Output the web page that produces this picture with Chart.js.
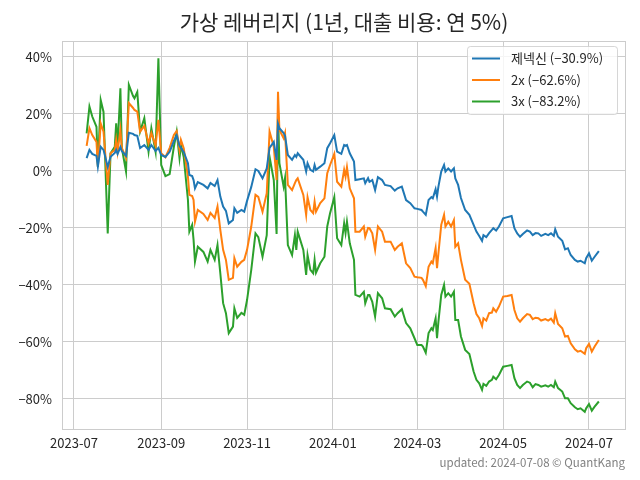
<!DOCTYPE html>
<html>
<head>
<meta charset="utf-8">
<script src="https://cdn.jsdelivr.net/npm/chart.js@4.4.1/dist/chart.umd.min.js"></script>
<style>
  html, body { margin: 0; padding: 0; background: #fff; }
  #wrap { width: 640px; height: 480px; }
</style>
</head>
<body>
<div id="wrap"><canvas id="myChart" width="640" height="480"></canvas></div>
<script>
// 날짜 (대략적인 거래일)
const dates = [
  '2023-07-10','2023-07-12','2023-07-14','2023-07-17','2023-07-18','2023-07-20','2023-07-22','2023-07-25','2023-07-27','2023-07-30',
  '2023-07-31','2023-08-01','2023-08-03','2023-08-04','2023-08-07','2023-08-09','2023-08-12','2023-08-13','2023-08-15','2023-08-17',
  '2023-08-20','2023-08-23','2023-08-25','2023-08-28','2023-08-30','2023-09-01','2023-09-04','2023-09-07','2023-09-10','2023-09-12',
  '2023-09-14','2023-09-15','2023-09-17','2023-09-20','2023-09-21','2023-09-23','2023-09-24','2023-09-25','2023-09-27','2023-10-01',
  '2023-10-04','2023-10-06','2023-10-09','2023-10-11','2023-10-13','2023-10-15','2023-10-17','2023-10-19','2023-10-22','2023-10-23',
  '2023-10-25','2023-10-28','2023-10-30','2023-11-01','2023-11-04','2023-11-07','2023-11-09','2023-11-12','2023-11-15','2023-11-17',
  '2023-11-20','2023-11-22','2023-11-23','2023-11-24','2023-11-27','2023-11-28','2023-11-30','2023-12-03','2023-12-05','2023-12-06',
  '2023-12-07','2023-12-11','2023-12-13','2023-12-14','2023-12-16','2023-12-18','2023-12-19','2023-12-20','2023-12-23','2023-12-26',
  '2023-12-28','2023-12-30','2024-01-02','2024-01-04','2024-01-07','2024-01-09','2024-01-10','2024-01-11','2024-01-13','2024-01-16',
  '2024-01-17','2024-01-20','2024-01-23','2024-01-24','2024-01-26','2024-01-27','2024-01-29','2024-01-31','2024-02-02','2024-02-05',
  '2024-02-07','2024-02-11','2024-02-14','2024-02-16','2024-02-19','2024-02-22','2024-02-25','2024-02-28','2024-03-01','2024-03-04',
  '2024-03-05','2024-03-07','2024-03-09','2024-03-11','2024-03-12','2024-03-14','2024-03-15','2024-03-16','2024-03-18','2024-03-20',
  '2024-03-21','2024-03-23','2024-03-25','2024-03-27','2024-03-28','2024-03-30','2024-04-01','2024-04-04','2024-04-07','2024-04-10',
  '2024-04-12','2024-04-14','2024-04-16','2024-04-17','2024-04-19','2024-04-21','2024-04-23','2024-04-24','2024-04-26','2024-04-28',
  '2024-05-01','2024-05-04','2024-05-07','2024-05-09','2024-05-11','2024-05-13','2024-05-15','2024-05-18','2024-05-20','2024-05-22',
  '2024-05-24','2024-05-26','2024-05-28','2024-05-31','2024-06-02','2024-06-04','2024-06-06','2024-06-07','2024-06-09','2024-06-12',
  '2024-06-14','2024-06-16','2024-06-18','2024-06-21','2024-06-23','2024-06-25','2024-06-28','2024-06-29','2024-07-01','2024-07-03',
  '2024-07-05','2024-07-08'
];

// 제넥신 누적 수익률 (%)
const base1x = [
  4.5, 7.4, 6.0, 5.3, 1.5, 8.5, 7.4, 1.4, 5.0, 6.3,
  7.4, 6.0, 8.4, 7.0, 5.3, 13.4, 13.0, 12.6, 12.3, 8.0,
  9.1, 7.4, 9.1, 7.0, 8.1, 5.6, 4.9, 6.7, 10.5, 12.5,
  8.8, 8.1, 6.7, 2.7, -1.4, -1.8, -3.2, -6.1, -3.9, -4.9,
  -6.1, -4.2, -5.3, -3.2, -9.0, -12.5, -14.0, -18.4, -17.2, -13.1,
  -14.7, -13.7, -14.3, -10.5, -5.6, 0.6, 0.0, -2.6, 0.9, 8.1,
  10.2, 3.9, 16.5, 15.0, 13.3, 12.3, 5.6, 3.9, 5.6, 4.9,
  6.2, 3.9, -0.2, 2.7, 0.4, -0.2, 2.1, 0.4, 1.5, 2.7,
  8.0, 9.7, 12.6, 6.8, 6.0, 9.1, 8.8, 9.1, 6.2, 3.3,
  -3.2, -2.9, -2.6, -4.3, -2.5, -3.8, -3.2, -6.7, -2.2, -3.2,
  -4.9, -5.3, -6.9, -6.1, -5.5, -10.2, -11.3, -13.1, -13.3, -13.7,
  -14.3, -15.4, -10.2, -9.2, -9.6, -6.4, -9.0, -5.5, -0.2, 2.1,
  -0.2, 0.9, -0.2, 0.9, -2.6, -4.9, -9.5, -13.7, -15.4, -18.9,
  -21.3, -22.8, -24.5, -22.5, -23.2, -21.8, -20.7, -20.1, -20.9, -19.5,
  -16.6, -16.2, -15.8, -20.1, -21.9, -23.1, -22.1, -20.9, -21.3, -22.5,
  -21.8, -21.9, -22.8, -22.1, -22.5, -21.9, -22.8, -20.5, -23.1, -24.5,
  -27.5, -27.1, -29.5, -31.2, -31.8, -31.5, -32.4, -30.6, -28.9, -31.5,
  -30.1, -28.1
];

// 2배 레버리지 (%)
const lev2x = [
  8.8, 15.0, 12.6, 10.2, 1.5, 16.7, 13.8, -4.9, 6.2, 7.4,
  10.9, 6.7, 14.4, 8.1, 4.6, 23.8, 22.1, 21.4, 20.8, 13.8,
  15.8, 9.7, 13.3, 8.8, 17.9, 6.2, 4.8, 8.1, 12.6, 14.0,
  7.4, 10.9, 8.0, -2.0, -8.4, -8.8, -10.2, -17.8, -13.7, -15.1,
  -17.2, -14.7, -16.5, -12.5, -20.7, -27.7, -31.2, -38.2, -37.5, -30.6,
  -33.6, -31.9, -31.2, -27.7, -19.5, -8.4, -9.1, -14.3, -7.8, 13.8,
  8.5, -3.2, 27.8, 14.4, 11.5, 13.3, -4.9, -6.7, -4.3, -3.2,
  -2.6, -8.4, -15.4, -9.2, -13.7, -14.8, -10.8, -14.3, -11.3, -9.6,
  -0.8, 2.1, 6.0, -3.8, -5.5, 0.4, -2.0, 1.3, -6.1, -9.6,
  -21.3, -21.3, -19.5, -23.1, -20.0, -20.1, -21.9, -27.7, -19.5, -21.3,
  -24.8, -24.8, -27.7, -26.6, -25.4, -32.4, -34.1, -37.1, -37.3, -37.5,
  -38.2, -40.4, -33.6, -31.8, -32.4, -27.1, -34.1, -28.9, -18.9, -15.4,
  -19.5, -17.8, -19.5, -17.2, -26.6, -25.4, -31.2, -38.2, -39.6, -46.4,
  -50.2, -51.7, -54.4, -51.7, -52.5, -49.9, -49.7, -48.2, -49.4, -47.6,
  -44.1, -43.9, -43.5, -48.8, -51.7, -52.9, -51.7, -50.2, -50.5, -52.0,
  -51.5, -51.7, -52.5, -52.0, -52.5, -51.8, -53.2, -49.9, -53.7, -55.2,
  -58.1, -57.9, -60.5, -62.6, -63.4, -63.1, -64.2, -62.2, -60.7, -63.4,
  -61.6, -59.3
];

// 3배 레버리지 (%)
const lev3x = [
  13.2, 22.6, 19.1, 15.5, 1.5, 24.9, 20.7, -21.9, 6.2, 8.5,
  16.7, 8.1, 29.0, 8.1, -0.2, 30.2, 26.3, 25.5, 27.7, 13.8,
  18.5, 6.8, 15.0, 6.8, 39.5, 2.1, -1.8, -1.1, 8.5, 13.8,
  4.5, 9.1, 4.9, -10.2, -21.3, -18.9, -24.2, -31.8, -26.6, -28.4,
  -31.8, -27.7, -31.2, -26.0, -35.9, -46.4, -49.9, -56.9, -54.6, -48.2,
  -51.6, -49.8, -50.5, -45.3, -34.7, -21.9, -23.2, -30.1, -22.5, 5.0,
  -3.2, -22.1, 20.8, 2.7, -5.5, -2.5, -26.0, -29.5, -22.5, -27.7,
  -21.3, -27.7, -36.5, -29.5, -34.7, -35.9, -31.2, -35.7, -32.4, -30.1,
  -19.5, -14.8, -9.2, -23.6, -26.0, -18.4, -21.8, -17.8, -25.4, -31.2,
  -43.5, -44.1, -42.4, -46.4, -43.5, -43.5, -45.9, -51.1, -42.9, -44.7,
  -48.2, -48.5, -51.1, -49.9, -48.5, -53.4, -55.2, -58.7, -61.1, -61.1,
  -61.6, -63.8, -56.9, -55.2, -55.8, -51.7, -58.7, -52.9, -43.5, -40.0,
  -44.1, -42.9, -44.1, -42.4, -52.3, -52.3, -58.1, -62.8, -64.2, -70.4,
  -73.3, -74.5, -76.8, -74.7, -75.4, -73.9, -73.3, -72.2, -73.1, -71.6,
  -68.7, -68.4, -68.1, -72.7, -75.1, -76.2, -75.1, -73.9, -74.3, -75.9,
  -74.8, -75.1, -75.7, -75.2, -75.7, -75.1, -75.9, -73.9, -76.2, -77.4,
  -79.8, -79.8, -81.5, -82.9, -83.6, -83.3, -84.5, -83.3, -81.8, -84.1,
  -82.7, -80.9
];

const seriesLabels = ['제넥신 (\u221230.9%)', '2x (\u221262.6%)', '3x (\u221283.2%)'];
const yTicks = [-80, -60, -40, -20, 0, 20, 40];
const xTicks = ['2023-07-01', '2023-09-01', '2023-11-01', '2024-01-01', '2024-03-01', '2024-05-01', '2024-07-01'];

const FONT = "'Noto Sans CJK KR', 'Noto Sans', sans-serif";
const colors = ['#1f77b4', '#ff7f0e', '#2ca02c'];

function toPoints(vals) {
  return vals.map((v, i) => ({ x: Date.parse(dates[i]), y: v }));
}

function fmtPct(v) {
  return (v < 0 ? '\u2212' + Math.abs(v) : v) + '%';
}

// 제목, 테두리, 범례, 하단 문구
const decor = {
  id: 'decor',
  beforeDatasetsDraw(chart) {
    const { ctx, chartArea: a } = chart;
    ctx.save();
    ctx.strokeStyle = '#cccccc';
    ctx.lineWidth = 1;
    ctx.strokeRect(a.left + 0.5, a.top + 0.5, a.right - a.left - 1, a.bottom - a.top - 1);
    ctx.restore();
  },
  afterDatasetsDraw(chart) {
    const { ctx, chartArea: a } = chart;
    ctx.save();
    // legend
    const bx = 467, by = 46, bw = 150, bh = 68;
    ctx.beginPath();
    ctx.roundRect(bx + 0.5, by + 0.5, bw, bh, 3);
    ctx.fillStyle = 'rgba(255,255,255,0.8)';
    ctx.fill();
    ctx.strokeStyle = 'rgba(204,204,204,0.8)';
    ctx.lineWidth = 1;
    ctx.stroke();
    ctx.font = '13px ' + FONT;
    ctx.textBaseline = 'middle';
    chart.data.datasets.forEach((ds, i) => {
      const yy = 58.5 + i * 21.5;
      ctx.strokeStyle = ds.borderColor;
      ctx.lineWidth = 2;
      ctx.beginPath();
      ctx.moveTo(472, yy);
      ctx.lineTo(500, yy);
      ctx.stroke();
      ctx.fillStyle = '#262626';
      ctx.fillText(ds.label, 511, yy);
    });
    // title
    ctx.fillStyle = '#262626';
    ctx.font = '21px ' + FONT;
    ctx.textAlign = 'center';
    ctx.textBaseline = 'middle';
    ctx.fillText('가상 레버리지 (1년, 대출 비용: 연 5%)', (a.left + a.right) / 2, 22);
    // footer
    ctx.fillStyle = '#808080';
    ctx.font = '11.5px ' + FONT;
    ctx.textAlign = 'right';
    ctx.fillText('updated: 2024-07-08 \u00a9 QuantKang', 625, 463);
    ctx.restore();
  }
};

const day = 86400000;
const jul1 = Date.parse('2023-07-01');

const ctx = document.getElementById('myChart').getContext('2d');
const myChart = new Chart(ctx, {
  type: 'line',
  data: {
    datasets: [base1x, lev2x, lev3x].map((vals, i) => ({
      label: seriesLabels[i],
      data: toPoints(vals),
      borderColor: colors[i],
      backgroundColor: colors[i],
      borderWidth: 2,
      pointRadius: 0,
      tension: 0
    }))
  },
  options: {
    responsive: false,
    animation: false,
    layout: { padding: { left: 0, right: 14, top: 41, bottom: 0 } },
    plugins: {
      legend: { display: false },
      title: { display: false },
      tooltip: { enabled: false }
    },
    scales: {
      x: {
        type: 'linear',
        min: jul1 - 8.5 * day,
        max: jul1 + 392.3 * day,
        grid: { color: '#cccccc', drawTicks: false },
        border: { display: false },
        afterBuildTicks(axis) {
          axis.ticks = xTicks.map(d => ({ value: Date.parse(d) }));
        },
        afterFit(axis) { axis.height = 50; },
        ticks: {
          padding: 5,
          color: '#262626',
          font: { family: FONT, size: 13 },
          maxRotation: 0,
          callback(v) {
            const d = new Date(v);
            return d.getUTCFullYear() + '-' + String(d.getUTCMonth() + 1).padStart(2, '0');
          }
        }
      },
      y: {
        min: -90.9,
        max: 45.6,
        grid: { color: '#cccccc', drawTicks: false },
        border: { display: false },
        afterBuildTicks(axis) {
          axis.ticks = yTicks.map(v => ({ value: v }));
        },
        afterFit(axis) { axis.width = 62; },
        ticks: {
          padding: 10,
          color: '#262626',
          font: { family: FONT, size: 13 },
          callback: v => fmtPct(v)
        }
      }
    }
  },
  plugins: [decor]
});
</script>
</body>
</html>
